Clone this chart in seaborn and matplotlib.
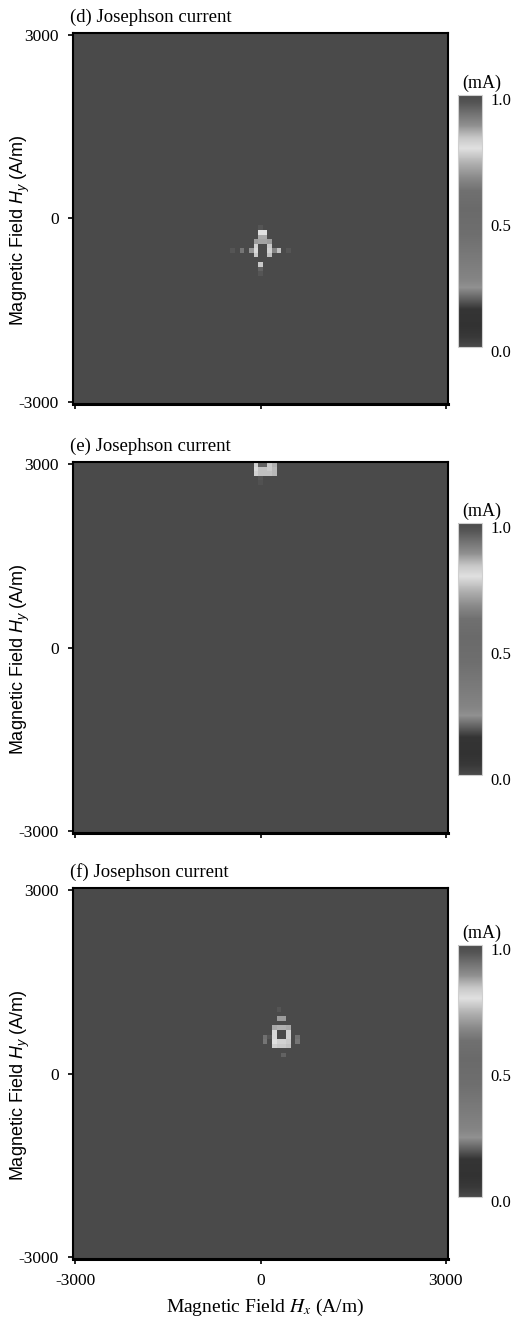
import numpy as np
import pandas as pd
import matplotlib
matplotlib.use("Agg")
import matplotlib.pyplot as plt
import matplotlib.transforms as mtransforms
import seaborn as sns
from matplotlib.colors import LinearSegmentedColormap

# ---------------- data ----------------
field_step = 75            # A/m
field_min, field_max = -3000, 3000
tick_values = [-3000, 0, 3000]
tick_labels = ["-3000", "0", "3000"]
panel_titles = ["(d) Josephson current", "(e) Josephson current", "(f) Josephson current"]
cbar_ticks = [0.0, 0.5, 1.0]
cbar_ticklabels = ["0.0", "0.5", "1.0"]
cbar_unit = "(mA)"
background_current = 0.0

# grey-scale colour map stops (value, grey level 0-255)
cmap_pos = [0.00, 0.04, 0.08, 0.15, 0.19, 0.235, 0.27, 0.35, 0.45, 0.55, 0.62, 0.67, 0.73, 0.79, 0.83, 0.88, 0.93, 0.97, 1.00]
cmap_grey = [74, 56, 50, 52, 96, 144, 132, 122, 110, 106, 112, 136, 176, 224, 200, 144, 112, 85, 74]

# panel (d): cells (Hx, Hy) in A/m and current in mA
d_hx = [0, 75, 0, 75, -75, 0, 75, 150, -75, 150, -75, 150, 225, 300, -75, 150, -150, -300, 0, 0, 0, 0, -450, 450]
d_hy = [-225, -225, -300, -300, -375, -375, -375, -375, -450, -450, -525, -525, -525, -525, -600, -600, -525, -525, -750, -825, -900, -150, -525, -525]
d_val = [0.79, 0.79, 0.72, 0.72, 0.70, 0.71, 0.71, 0.70, 0.77, 0.76, 0.78, 0.77, 0.66, 0.75, 0.76, 0.75, 0.69, 0.63, 0.76, 0.95, 0.97, 0.97, 0.97, 0.97]

# panel (e)
e_hx = [-75, 0, 75, 150, 225, -75, 0, 75, 150, 225, -75, 0, 75, 150, 225, 0, 0]
e_hy = [3000, 3000, 3000, 3000, 3000, 2925, 2925, 2925, 2925, 2925, 2850, 2850, 2850, 2850, 2850, 2775, 2700]
e_val = [0.77, 0.95, 0.95, 0.76, 0.73, 0.78, 0.75, 0.75, 0.76, 0.74, 0.77, 0.75, 0.75, 0.75, 0.74, 0.97, 0.98]

# panel (f)
f_hx = [300, 375, 225, 300, 375, 450, 225, 450, 225, 450, 225, 300, 375, 450, 225, 300, 375, 450, 75, 75, 600, 600, 375, 300, 150]
f_hy = [900, 900, 750, 750, 750, 750, 675, 675, 600, 600, 525, 525, 525, 525, 450, 450, 450, 450, 600, 525, 600, 525, 300, 1050, 600]
f_val = [0.70, 0.70, 0.72, 0.73, 0.73, 0.72, 0.78, 0.77, 0.78, 0.77, 0.79, 0.77, 0.77, 0.76, 0.77, 0.76, 0.76, 0.75, 0.62, 0.63, 0.62, 0.63, 0.95, 0.97, 0.97]

panels = [(d_hx, d_hy, d_val), (e_hx, e_hy, e_val), (f_hx, f_hy, f_val)]

# ---------------- style ----------------
plt.rcParams["font.family"] = ["Liberation Serif", "DejaVu Serif"]
plt.rcParams["mathtext.fontset"] = "custom"
plt.rcParams["mathtext.rm"] = "Liberation Sans"
plt.rcParams["mathtext.it"] = "Liberation Sans:italic"

cmap = LinearSegmentedColormap.from_list(
    "jc_grey", list(zip(cmap_pos, [(g / 255, g / 255, g / 255) for g in cmap_grey])), N=512)

W, H = 516, 1320
fig = plt.figure(figsize=(W / 100, H / 100), dpi=100)

ax_tops = [33, 462, 888]
ax_h = 371
ax_left, ax_w = 73, 375
cb_tops = [95, 523, 945]
cb_h = 252
cb_left, cb_w = 458, 24

hx_axis = np.arange(field_min, field_max + 1, field_step)
hy_axis = hx_axis[::-1]

for k, (hxs, hys, vals) in enumerate(panels):
    df = pd.DataFrame(background_current, index=hy_axis, columns=hx_axis)
    for hx, hy, v in zip(hxs, hys, vals):
        df.loc[hy, hx] = v

    ax = fig.add_axes([ax_left / W, 1 - (ax_tops[k] + ax_h) / H, ax_w / W, ax_h / H])
    cax = fig.add_axes([cb_left / W, 1 - (cb_tops[k] + cb_h) / H, cb_w / W, cb_h / H])
    sns.heatmap(df, ax=ax, cmap=cmap, vmin=0, vmax=1, cbar_ax=cax,
                xticklabels=False, yticklabels=False, linewidths=0)

    xpos = [list(hx_axis).index(v) + 0.5 for v in tick_values]
    ypos = [list(hy_axis).index(v) + 0.5 for v in tick_values]
    ax.set_xticks(xpos)
    ax.set_yticks(ypos)
    ax.set_yticklabels(tick_labels, rotation=0, fontsize=12.5)
    if k == 2:
        ax.set_xticklabels(tick_labels, rotation=0, fontsize=12.5)
        ax.set_xlabel("Magnetic Field $H_x$ (A/m)", fontsize=14,
                      family="Liberation Serif", math_fontfamily="stix")
        ax.xaxis.set_label_coords(0.512, -0.102)
    else:
        ax.set_xticklabels([])
    ax.tick_params(direction="out", length=3.8, width=1.2, pad=6.5, colors="black")
    ax.set_ylabel("Magnetic Field $H_y$ (A/m)", fontsize=13, family="Liberation Sans")
    ax.yaxis.set_label_coords(-0.109, 0.47)
    for name, s in ax.spines.items():
        s.set_visible(True)
        s.set_color("black")
        s.set_linewidth(1.5)
    ax.spines["bottom"].set_linewidth(2.2)

    ax.text(-0.009, 1.02, panel_titles[k], transform=ax.transAxes,
            ha="left", va="bottom", fontsize=13.5)

    cb = ax.collections[0].colorbar
    cb.set_ticks(cbar_ticks)
    cb.set_ticklabels(cbar_ticklabels)
    cb.outline.set_visible(True)
    cb.outline.set_linewidth(0.8)
    cb.outline.set_edgecolor("#cfcfcf")
    cax.tick_params(length=0, pad=6, labelsize=12)
    shift = mtransforms.ScaledTranslation(0, -4 / 100, fig.dpi_scale_trans)
    for lab in cax.get_yticklabels():
        lab.set_transform(lab.get_transform() + shift)
    cax.text(1.0, 1.012, cbar_unit, transform=cax.transAxes,
             ha="center", va="bottom", fontsize=13)

fig.savefig("out.png", dpi=100)
